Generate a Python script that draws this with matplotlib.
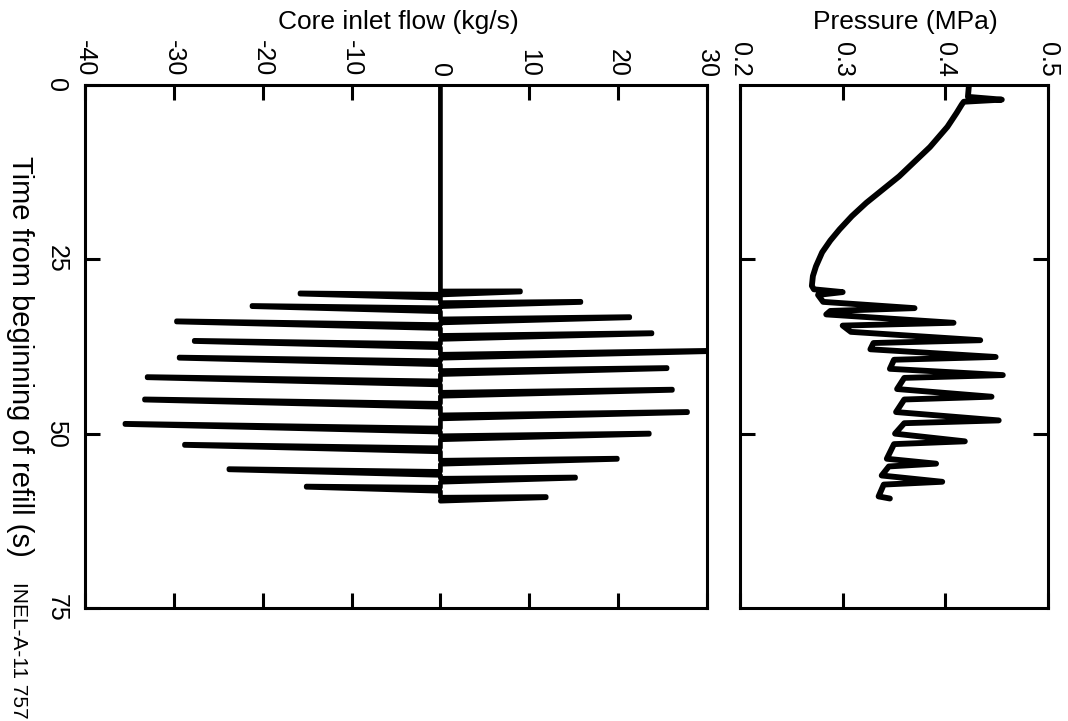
import matplotlib
matplotlib.use("Agg")
import matplotlib.pyplot as plt

plt.rcParams['font.family'] = ['Liberation Sans', 'DejaVu Sans']

# ---------------- data ----------------
# Core inlet flow: negative and positive spikes (time of tip in s, value in kg/s)
neg_time = [29.9, 31.7, 33.9, 36.7, 39.1, 41.9, 45.1, 48.6, 51.6, 55.1, 57.6]
neg_flow = [-15.8, -21.2, -29.7, -27.7, -29.4, -33.0, -33.3, -35.5, -28.8, -23.8, -15.1]
pos_time = [29.6, 31.1, 33.3, 35.6, 38.1, 40.6, 43.7, 46.9, 50.0, 53.6, 56.3, 59.1]
pos_flow = [9.0, 15.8, 21.3, 23.8, 32.0, 25.5, 26.1, 27.8, 23.5, 19.9, 15.2, 11.9]
flow_start = 0.0
flow_end = 59.6

# Pressure trace (time s, pressure MPa)
press_time = [0.0, 1.7, 2.1, 2.4, 2.8, 4.0, 6.0, 8.9, 11.0, 13.1, 15.0, 16.9, 18.8,
              20.7, 22.3, 24.0, 26.0, 27.4,
              28.8, 29.3, 29.7, 30.1, 31.1, 32.0, 32.4, 32.9, 34.1, 34.5, 35.4,
              36.6, 37.0, 37.9, 39.0, 39.4, 40.7, 41.6, 42.0, 43.6, 44.7, 45.1,
              46.9, 48.1, 48.5, 50.0, 51.1, 51.5, 53.6, 54.3, 54.7, 56.0, 56.9,
              57.3, 59.0, 59.3]
press_val = [0.423, 0.422, 0.455, 0.418, 0.416, 0.411, 0.402, 0.385, 0.370, 0.355, 0.339, 0.323, 0.309,
             0.297, 0.288, 0.280, 0.274, 0.271,
             0.270, 0.272, 0.300, 0.276, 0.281, 0.370, 0.288, 0.284, 0.408, 0.300, 0.308,
             0.434, 0.330, 0.327, 0.449, 0.350, 0.346, 0.456, 0.360, 0.353, 0.445, 0.360,
             0.352, 0.452, 0.360, 0.351, 0.419, 0.350, 0.343, 0.391, 0.345, 0.338, 0.397,
             0.340, 0.335, 0.346]

flow_ticks = [-40, -30, -20, -10, 0, 10, 20, 30]
flow_ticklabels = ['-40', '-30', '-20', '-10', '0', '10', '20', '30']
press_ticks = [0.2, 0.3, 0.4, 0.5]
press_ticklabels = ['0.2', '0.3', '0.4', '0.5']
time_ticks = [0, 25, 50, 75]
time_ticklabels = ['0', '25', '50', '75']

# ---------------- build flow trace from spikes ----------------
TILT = 0.025   # pen-arc tilt (s per kg/s)
BASE = 0.28    # half width of a spike base (s)
TIP = 0.08     # half width of a spike tip (s)
events = sorted(zip(neg_time + pos_time, neg_flow + pos_flow))
ft, fv = [flow_start], [0.0]
for t, v in events:
    tb = t + TILT * abs(v)
    ft += [tb - BASE, t - TIP, t + TIP, tb + BASE]
    fv += [0.0, v, v, 0.0]
ft.append(flow_end)
fv.append(0.0)

# ---------------- figure ----------------
W, H = 1068, 721
fig = plt.figure(figsize=(W / 100, H / 100), dpi=100)
bottom = 1 - 608 / H
height = (608 - 85) / H
ax1 = fig.add_axes([85 / W, bottom, (707 - 85) / W, height])
ax2 = fig.add_axes([740 / W, bottom, (1048 - 740) / W, height])

ax1.plot(fv, ft, color='black', lw=3.4, solid_capstyle='round', solid_joinstyle='round')
ax2.plot(press_val, press_time, color='black', lw=4.2, solid_capstyle='round', solid_joinstyle='round')

TFS = 18
for ax in (ax1, ax2):
    ax.set_ylim(75, 0)
    for s in ax.spines.values():
        s.set_linewidth(2.2)
    ax.tick_params(axis='both', direction='in', length=11, width=2.2,
                   top=True, bottom=True, labeltop=True, labelbottom=False,
                   labelsize=TFS, pad=6)
    ax.tick_params(axis='x', labelrotation=-90)

ax1.set_xlim(-40, 30)
ax1.set_xticks(flow_ticks)
ax1.set_xticklabels(flow_ticklabels)
ax1.set_yticks(time_ticks)
ax1.set_yticklabels(time_ticklabels)
ax1.tick_params(axis='y', left=True, right=False, labelleft=True, labelright=False,
                labelrotation=-90, pad=12)
for lab in ax1.get_yticklabels():
    lab.set_va('center')

ax2.set_xlim(0.2, 0.5)
ax2.set_xticks(press_ticks)
ax2.set_xticklabels(press_ticklabels)
ax2.set_yticks([25, 50])
ax2.tick_params(axis='y', left=True, right=True, labelleft=False, labelright=False)

fig.text(398 / W, 1 - 22 / H, 'Core inlet flow (kg/s)', ha='center', va='center', fontsize=19)
fig.text(905 / W, 1 - 22 / H, 'Pressure (MPa)', ha='center', va='center', fontsize=19)
fig.text(20 / W, 1 - 356 / H, 'Time from beginning of refill (s)', ha='center', va='center',
         rotation=-90, fontsize=21)
fig.text(18 / W, 1 - 650 / H, 'INEL-A-11 757', ha='center', va='center',
         rotation=-90, fontsize=15)

fig.savefig('out.png', dpi=100)
